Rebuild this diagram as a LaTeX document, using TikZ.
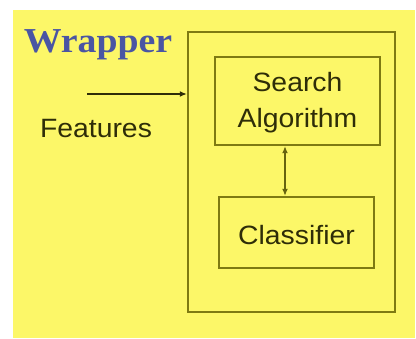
\documentclass[tikz,border=0pt]{standalone}
\usepackage{fontspec}
\setmainfont{Liberation Sans}
\newfontfamily\serifbold{Liberation Serif}
\usetikzlibrary{arrows.meta}
\definecolor{paper}{HTML}{FCF768}
\definecolor{boxline}{HTML}{7E7A12}
\definecolor{ink}{HTML}{2E2D08}
\definecolor{titleblue}{HTML}{4A55A3}
\tikzset{
  frame/.style={draw=boxline, line width=2.4pt, fill=none},
  label text/.style={text=ink, font=\fontsize{26.5}{36}\selectfont, align=center, xscale=1.07},
  flow/.style={draw=ink, line width=1.3pt, -{Latex[length=7pt,width=6pt]}},
  twoway/.style={draw=boxline!70!ink, line width=1.3pt, {Latex[length=7pt,width=6pt]}-{Latex[length=7pt,width=6pt]}},
}
\begin{document}
\begin{tikzpicture}[x=1pt,y=-1pt]
  \useasboundingbox (0,0) rectangle (416,339);
  \fill[white] (0,0) rectangle (416,339);
  \fill[paper] (13,10) rectangle (415,338);

  % enclosing wrapper frame
  \node[frame, minimum width=207pt, minimum height=280pt, inner sep=0pt] (outer) at (291.5,172) {};
  % inner components
  \node[frame, minimum width=165pt, minimum height=88pt, inner sep=0pt] (search) at (297.5,101) {};
  \node[label text] (searchtxt) at ([yshift=-2pt]search.center) {Search\\Algorithm};
  \node[frame, minimum width=155pt, minimum height=71pt, inner sep=0pt] (classifier) at (296.5,232.5) {};
  \node[label text] (classtxt) at ([yshift=-3pt]classifier.center) {Classifier};

  % title and input label
  \node[text=titleblue, font=\serifbold\bfseries\fontsize{35}{40}\selectfont, xscale=1.08] (title) at (98,45) {Wrapper};
  \node[label text] (features) at (96,129) {Features};

  % input arrow into the wrapper
  \coordinate (fin) at (87,94);
  \draw[flow] (fin) -- (fin -| outer.west);

  % exchange between search and classifier
  \draw[twoway] (search.south -| 285,0) -- (classifier.north -| 285,0);
\end{tikzpicture}
\end{document}
